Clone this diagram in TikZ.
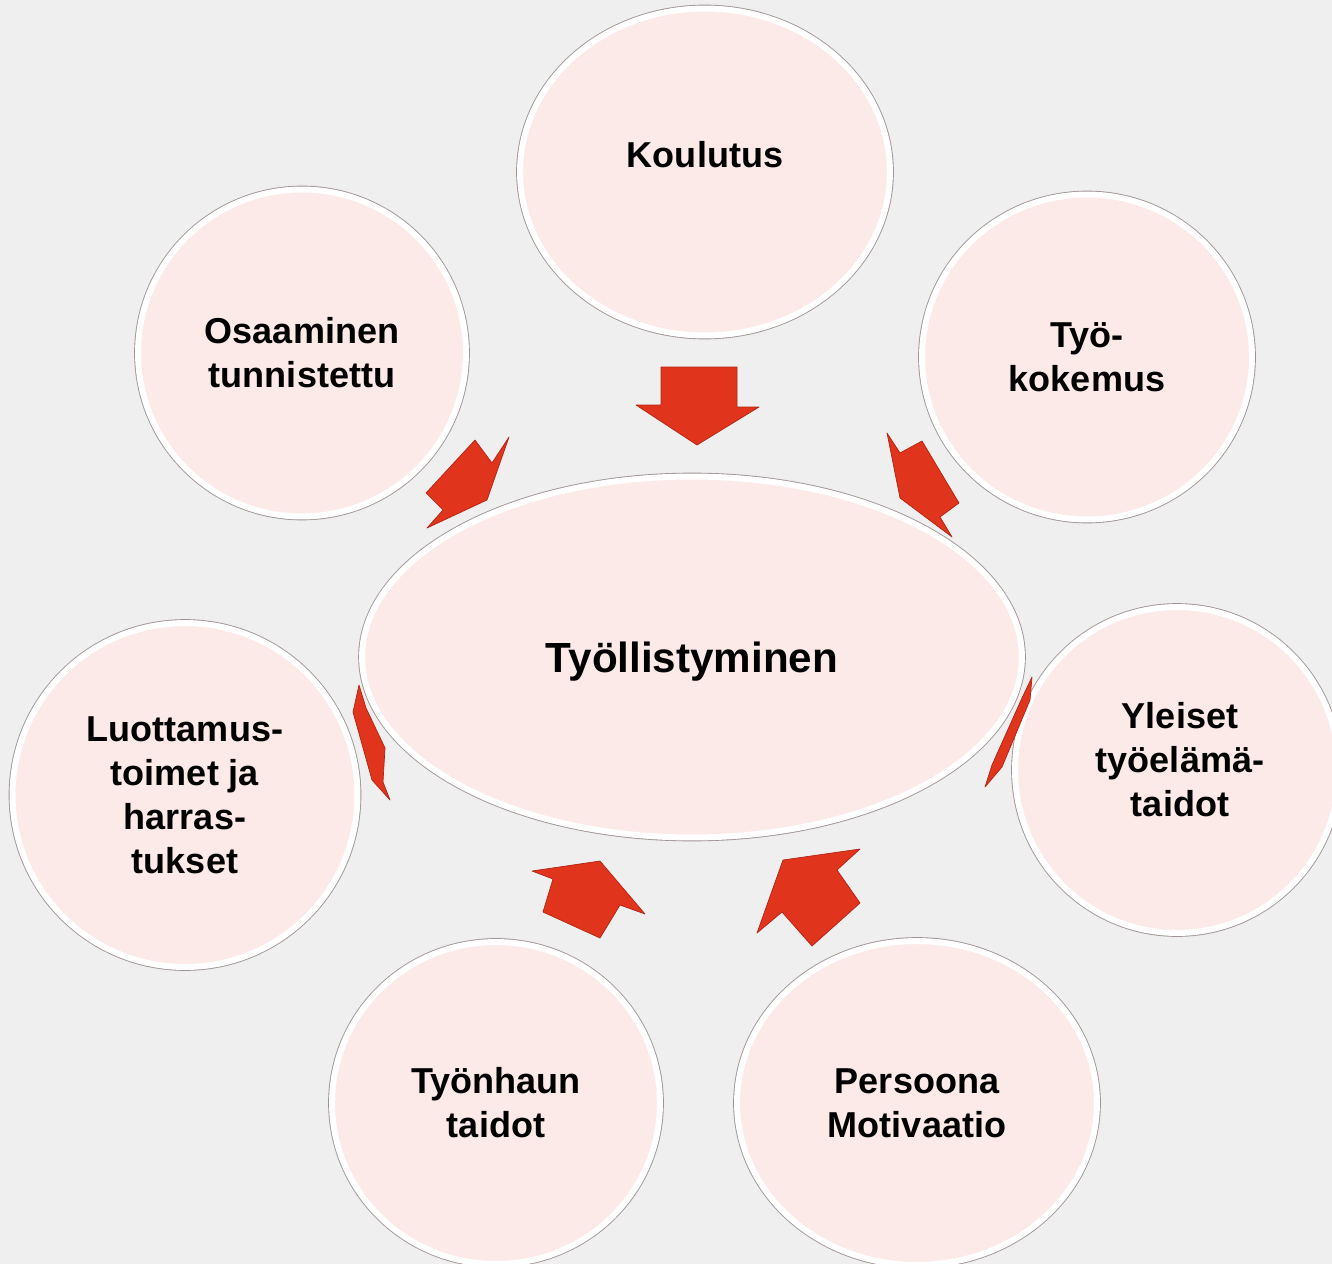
\documentclass[tikz,border=0pt]{standalone}
\usepackage{fontspec}
\setmainfont{Liberation Sans}
\usetikzlibrary{shapes.geometric}

\definecolor{bgcol}{RGB}{239,239,239}
\definecolor{pinkfill}{RGB}{252,234,232}
\definecolor{rimgray}{RGB}{160,148,148}
\definecolor{arrowred}{RGB}{224,52,28}
\definecolor{arrowedge}{RGB}{178,36,20}

\tikzset{
  bubble/.style={ellipse, fill=pinkfill, draw=white, line width=3.4pt,
    preaction={draw=rimgray, line width=4.4pt},
    inner sep=0pt, align=center,
    font=\fontsize{20.5}{25}\selectfont\bfseries},
  blockarrow/.style={fill=arrowred, draw=arrowedge, line width=0.4pt, line join=round}
}

\begin{document}
\begin{tikzpicture}[x=0.02cm,y=-0.02cm]
\useasboundingbox (0,0) rectangle (1332,1264);
\clip (0,0) rectangle (1332,1264);
\fill[bgcol] (0,0) rectangle (1332,1264);

% outer bubbles
\node[bubble, minimum width=7.4cm, minimum height=6.54cm] (koulutus) at (705,172)
  {\raisebox{0.34cm}[\height][\depth]{Koulutus}};
\node[bubble, minimum width=6.56cm, minimum height=6.54cm] (osaaminen) at (302,353)
  {Osaaminen\\tunnistettu};
\node[bubble, minimum width=6.6cm, minimum height=6.5cm] (kokemus) at (1087,357)
  {Työ-\\kokemus};
\node[bubble, minimum width=6.9cm, minimum height=6.88cm] (luottamus) at (185,795)
  {Luottamus-\\toimet ja\\harras-\\tukset};
\node[bubble, minimum width=6.48cm, minimum height=6.52cm] (yleiset) at (1177,770)
  {\raisebox{0.13cm}[\height][\depth]{\hspace{0.12cm}\begin{tabular}{@{}c@{}}Yleiset\\työelämä-\\taidot\end{tabular}}};
\node[bubble, minimum width=6.56cm, minimum height=6.44cm] (tyonhaku) at (496,1103)
  {Työnhaun\\taidot};
\node[bubble, minimum width=7.2cm, minimum height=6.48cm] (persoona) at (917,1103)
  {Persoona\\Motivaatio};

% centre
\node[bubble, minimum width=13.2cm, minimum height=7.22cm,
  font=\fontsize{24}{28}\selectfont\bfseries] (tyollistyminen) at (692,657)
  {\raisebox{-0.1cm}[\height][\depth]{Työllistyminen}};

% arrows
\filldraw[blockarrow] (661,367) -- (737,367) -- (737,407) -- (759,407) -- (697,445) -- (636,405) -- (661,405) -- cycle;
\filldraw[blockarrow] (475,440) -- (492,463) -- (509,437) -- (487,500) -- (427,528) -- (443,510) -- (426,493) -- cycle;
\filldraw[blockarrow] (922,441) -- (900,453) -- (887,433) -- (900,498) -- (952,537) -- (940,517) -- (959,503) -- cycle;
\filldraw[blockarrow] (359,685) -- (366,708) -- (385,748) -- (383,782) -- (390,800) -- (372,780) -- (353,712) -- cycle;
\filldraw[blockarrow] (1032,677) -- (1022,698) -- (992,765) -- (985,787) -- (1002,767) -- (1030,700) -- cycle;
\filldraw[blockarrow] (600,861) -- (645,914) -- (620,905) -- (600,938) -- (543,912) -- (553,879) -- (532,871) -- cycle;
\filldraw[blockarrow] (783,860) -- (860,849) -- (837,870) -- (860,903) -- (812,946) -- (782,912) -- (757,933) -- cycle;

\end{tikzpicture}
\end{document}
